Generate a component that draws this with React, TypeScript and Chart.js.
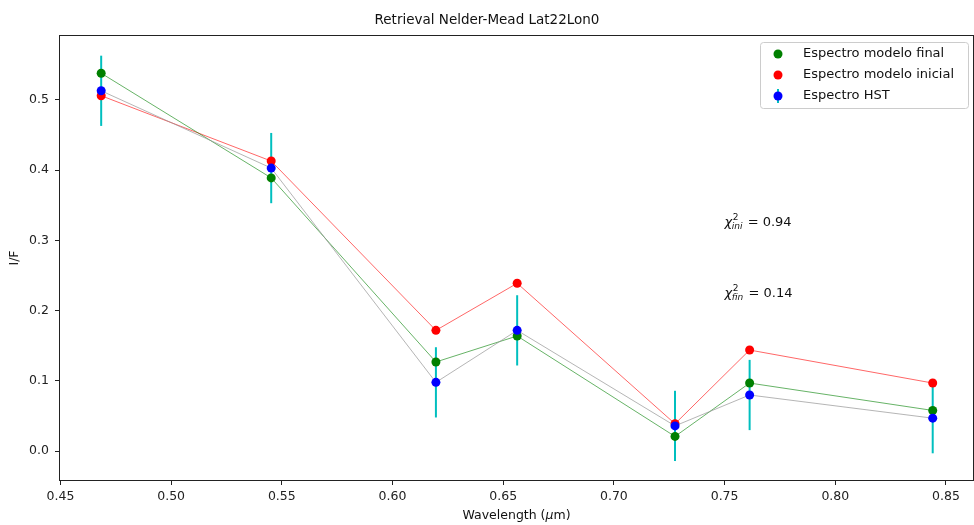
import React, { useEffect, useRef } from "react";
import { Chart, registerables } from "chart.js";

Chart.register(...registerables);

const wavelengths = [0.4684, 0.5452, 0.6196, 0.6563, 0.7276, 0.7613, 0.844];
const finalModel = [0.538, 0.389, 0.127, 0.164, 0.021, 0.097, 0.058];
const initialModel = [0.506, 0.413, 0.172, 0.239, 0.039, 0.144, 0.097];
const hstSpectrum = [0.513, 0.403, 0.098, 0.172, 0.036, 0.08, 0.047];
const hstError = [0.05, 0.05, 0.05, 0.05, 0.05, 0.05, 0.05];

const xTicks = [0.45, 0.5, 0.55, 0.6, 0.65, 0.7, 0.75, 0.8, 0.85];
const yTicks = [0.0, 0.1, 0.2, 0.3, 0.4, 0.5];

const titleText = "Retrieval Nelder-Mead Lat22Lon0";
const legendLabels = ["Espectro modelo final", "Espectro modelo inicial", "Espectro HST"];
const chiNotes = [
  { sub: "ini", value: "0.94", x: 0.75, y: 0.32 },
  { sub: "fin", value: "0.14", x: 0.75, y: 0.22 },
];

const FONT = "'DejaVu Sans', sans-serif";
const GREEN = "#008000";
const RED = "#ff0000";
const BLUE = "#0000ff";
const CYAN = "#00bfbf";

const overlayPlugin = {
  id: "overlay",
  beforeDatasetsDraw(chart: any) {
    const ctx = chart.ctx;
    const xs = chart.scales.x;
    const ys = chart.scales.y;
    ctx.save();
    ctx.strokeStyle = CYAN;
    ctx.lineWidth = 2;
    ctx.lineCap = "butt";
    wavelengths.forEach((w, i) => {
      const px = xs.getPixelForValue(w);
      const y1 = ys.getPixelForValue(hstSpectrum[i] - hstError[i]);
      const y2 = ys.getPixelForValue(hstSpectrum[i] + hstError[i]);
      ctx.beginPath();
      ctx.moveTo(px, y1);
      ctx.lineTo(px, y2);
      ctx.stroke();
    });
    ctx.restore();
  },
  afterDraw(chart: any) {
    const ctx = chart.ctx;
    const area = chart.chartArea;
    const xs = chart.scales.x;
    const ys = chart.scales.y;
    ctx.save();

    // frame
    ctx.strokeStyle = "#222";
    ctx.lineWidth = 1;
    ctx.strokeRect(area.left - 0.5, area.top - 0.5, area.right - area.left + 1, area.bottom - area.top + 1);

    // title
    ctx.fillStyle = "#111";
    ctx.font = `13.5px ${FONT}`;
    ctx.textAlign = "center";
    ctx.textBaseline = "middle";
    ctx.fillText(titleText, chart.width / 2, 20);

    // x label
    const p1 = "Wavelength (";
    const p2 = "\u03bc";
    const p3 = "m)";
    ctx.font = `12.5px ${FONT}`;
    const w1 = ctx.measureText(p1).width;
    const w3 = ctx.measureText(p3).width;
    ctx.font = `italic 12.5px ${FONT}`;
    const w2 = ctx.measureText(p2).width;
    const total = w1 + w2 + w3;
    const sx = (area.left + area.right) / 2 - total / 2;
    ctx.textAlign = "left";
    ctx.textBaseline = "middle";
    ctx.font = `12.5px ${FONT}`;
    ctx.fillText(p1, sx, 516);
    ctx.font = `italic 12.5px ${FONT}`;
    ctx.fillText(p2, sx + w1, 516);
    ctx.font = `12.5px ${FONT}`;
    ctx.fillText(p3, sx + w1 + w2, 516);

    // y label
    ctx.save();
    ctx.translate(15, (area.top + area.bottom) / 2);
    ctx.rotate(-Math.PI / 2);
    ctx.textAlign = "center";
    ctx.textBaseline = "middle";
    ctx.font = `12.5px ${FONT}`;
    ctx.fillText("I/F", 0, 0);
    ctx.restore();

    // chi-square notes
    chiNotes.forEach((n) => {
      const x0 = xs.getPixelForValue(n.x);
      const b = ys.getPixelForValue(n.y);
      ctx.textAlign = "left";
      ctx.textBaseline = "alphabetic";
      ctx.fillStyle = "#111";
      ctx.font = `italic 13px ${FONT}`;
      ctx.fillText("\u03c7", x0, b);
      const wc = ctx.measureText("\u03c7").width;
      ctx.font = `9px ${FONT}`;
      ctx.fillText("2", x0 + wc + 0.5, b - 6);
      const ws = ctx.measureText("2").width;
      ctx.font = `italic 9px ${FONT}`;
      ctx.fillText(n.sub, x0 + wc - 0.5, b + 3);
      const wsub = ctx.measureText(n.sub).width;
      ctx.font = `13px ${FONT}`;
      ctx.fillText(" = " + n.value, x0 + wc + Math.max(ws + 0.5, wsub - 0.5) + 1, b);
    });

    // legend
    const lw = 208;
    const lh = 66;
    const lx = area.right - 5 - lw;
    const ly = area.top + 6;
    ctx.fillStyle = "rgba(255,255,255,0.8)";
    ctx.strokeStyle = "#cccccc";
    ctx.lineWidth = 1;
    ctx.beginPath();
    (ctx as any).roundRect(lx + 0.5, ly + 0.5, lw, lh, 3);
    ctx.fill();
    ctx.stroke();
    const colors = [GREEN, RED, BLUE];
    legendLabels.forEach((label, i) => {
      const cy = ly + 12 + i * 21;
      const mx = lx + 18;
      if (i === 2) {
        ctx.strokeStyle = CYAN;
        ctx.lineWidth = 2;
        ctx.beginPath();
        ctx.moveTo(mx, cy - 7);
        ctx.lineTo(mx, cy + 7);
        ctx.stroke();
      }
      ctx.fillStyle = colors[i];
      ctx.beginPath();
      ctx.arc(mx, cy, 4.5, 0, Math.PI * 2);
      ctx.fill();
      ctx.fillStyle = "#111";
      ctx.font = `13px ${FONT}`;
      ctx.textAlign = "left";
      ctx.textBaseline = "middle";
      ctx.fillText(label, lx + 43, cy);
    });

    ctx.restore();
  },
};

export default function App() {
  const canvasRef = useRef<HTMLCanvasElement | null>(null);

  useEffect(() => {
    document.body.style.margin = "0";
    const canvas = canvasRef.current;
    if (!canvas) return;
    const toPoints = (ys: number[]) => wavelengths.map((x, i) => ({ x, y: ys[i] }));
    const chart = new Chart(canvas, {
      type: "scatter",
      data: {
        datasets: [
          {
            label: legendLabels[2],
            data: toPoints(hstSpectrum),
            showLine: true,
            borderColor: "rgba(150,150,150,0.7)",
            borderWidth: 1,
            pointBackgroundColor: BLUE,
            pointBorderWidth: 0,
            pointRadius: 4.5,
          },
          {
            label: legendLabels[0],
            data: toPoints(finalModel),
            showLine: true,
            borderColor: "rgba(0,128,0,0.6)",
            borderWidth: 1,
            pointBackgroundColor: GREEN,
            pointBorderWidth: 0,
            pointRadius: 4.5,
          },
          {
            label: legendLabels[1],
            data: toPoints(initialModel),
            showLine: true,
            borderColor: "rgba(255,0,0,0.6)",
            borderWidth: 1,
            pointBackgroundColor: RED,
            pointBorderWidth: 0,
            pointRadius: 4.5,
          },
        ],
      },
      options: {
        animation: false,
        responsive: false,
        maintainAspectRatio: false,
        events: [],
        layout: { autoPadding: false, padding: { left: 0, right: 1, top: 36, bottom: 0 } },
        plugins: {
          legend: { display: false },
          title: { display: false },
          tooltip: { enabled: false },
        },
        scales: {
          x: {
            type: "linear",
            min: 0.4498,
            max: 0.8622,
            afterFit: (s: any) => {
              s.height = 45;
              s.paddingLeft = 0;
              s.paddingRight = 0;
            },
            afterBuildTicks: (s: any) => {
              s.ticks = xTicks.map((v) => ({ value: v }));
            },
            grid: {
              drawOnChartArea: false,
              drawTicks: true,
              tickLength: 5,
              tickColor: "#222",
              tickWidth: 1,
            },
            border: { display: false },
            ticks: {
              padding: 4,
              color: "#222",
              font: { family: "DejaVu Sans", size: 12.5 },
              maxRotation: 0,
              autoSkip: false,
              callback: (v: any) => Number(v).toFixed(2),
            },
          },
          y: {
            type: "linear",
            min: -0.041,
            max: 0.591,
            afterFit: (s: any) => {
              s.width = 60;
              s.paddingTop = 0;
              s.paddingBottom = 0;
            },
            afterBuildTicks: (s: any) => {
              s.ticks = yTicks.map((v) => ({ value: v }));
            },
            grid: {
              drawOnChartArea: false,
              drawTicks: true,
              tickLength: 5,
              tickColor: "#222",
              tickWidth: 1,
            },
            border: { display: false },
            ticks: {
              padding: 6,
              color: "#222",
              font: { family: "DejaVu Sans", size: 12.5 },
              autoSkip: false,
              callback: (v: any) => Number(v).toFixed(1),
            },
          },
        },
      },
      plugins: [overlayPlugin],
    });
    return () => chart.destroy();
  }, []);

  return (
    <div style={{ position: "fixed", left: 0, top: 0, width: 974, height: 525, background: "#fff" }}>
      <canvas ref={canvasRef} width={974} height={525} style={{ width: 974, height: 525 }} />
    </div>
  );
}
